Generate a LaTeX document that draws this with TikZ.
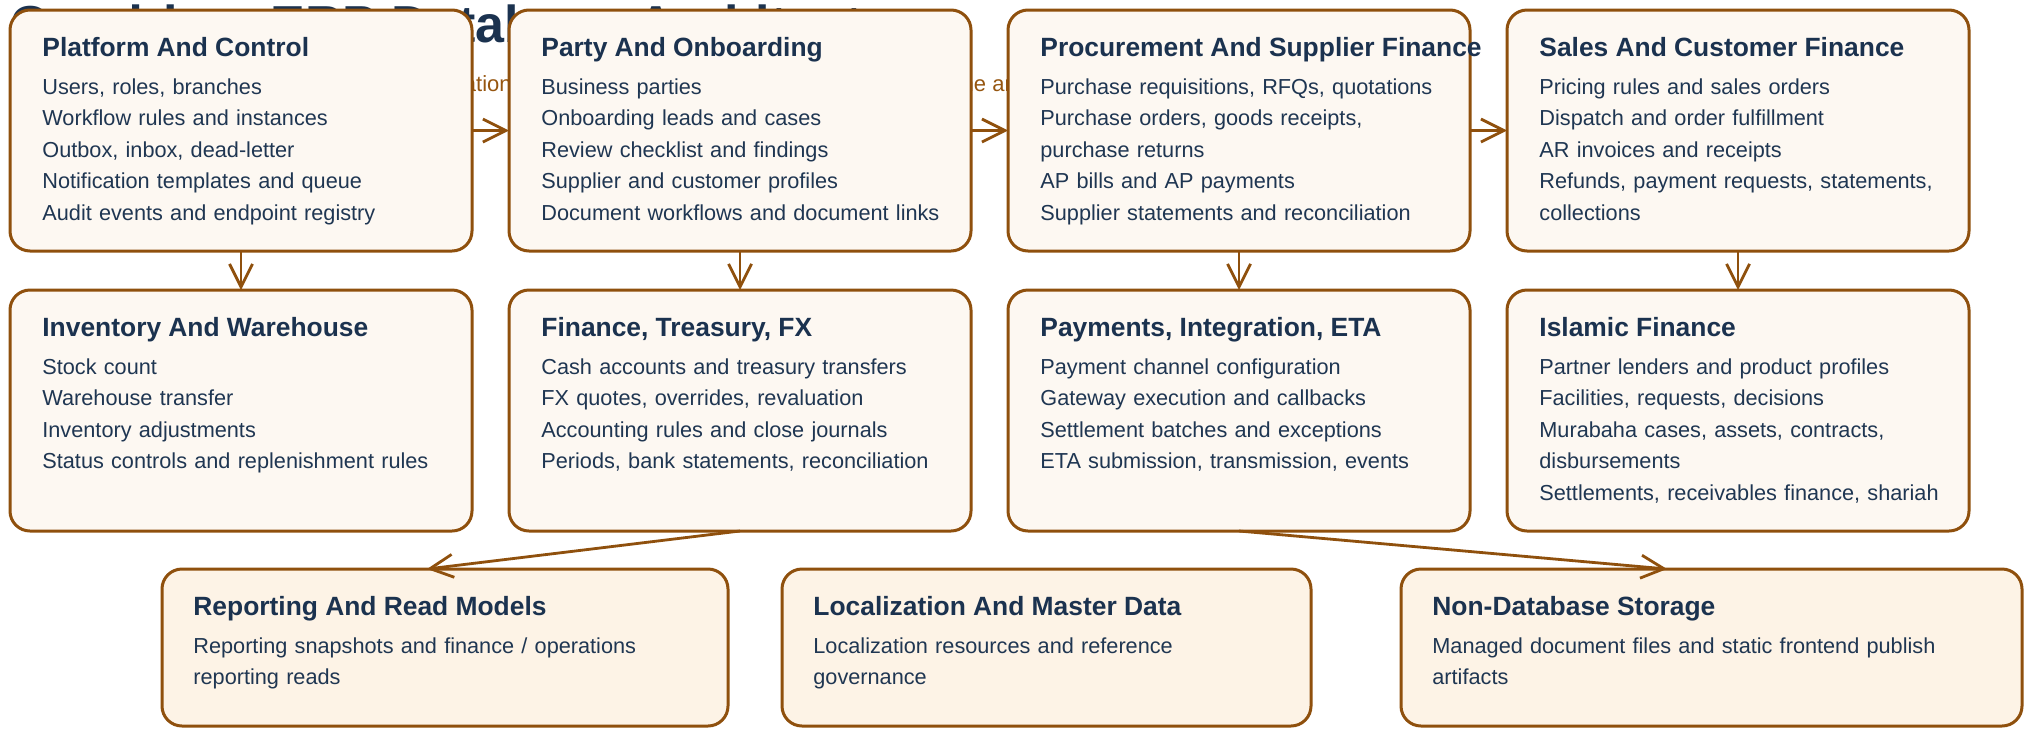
\documentclass[tikz,border=0pt]{standalone}
\usepackage{fontspec}
\setmainfont{Liberation Sans}
\usetikzlibrary{positioning,arrows.meta}

\definecolor{edgebrown}{RGB}{143,80,13}
\definecolor{headnavy}{RGB}{27,50,79}
\definecolor{bodynavy}{RGB}{31,54,82}
\definecolor{boxcream}{RGB}{253,248,242}
\definecolor{basecream}{RGB}{253,243,230}
\definecolor{subbrown}{RGB}{150,86,16}

\newcommand{\modhead}[1]{{\fontsize{13.2}{15.8}\selectfont\bfseries\color{headnavy}#1}\\[3.2pt]}

\begin{document}
\begin{tikzpicture}[x=0.5pt, y=-0.5pt,
    modbox/.style={draw=edgebrown, line width=1.5pt, rounded corners=10pt, fill=boxcream,
        minimum width=231pt, minimum height=120.5pt, inner sep=0pt, outer sep=0pt},
    basebox/.style={modbox, fill=basecream, minimum height=78.5pt},
    modtext/.style={anchor=base west, inner sep=0pt, text width=330pt, align=left,
        text=bodynavy, font=\fontsize{10.85}{15.8}\selectfont},
    flow/.style={draw=edgebrown, line width=1.4pt, -{Straight Barb[length=11.5pt,width=11.5pt]}}]
    \useasboundingbox[fill=white] (0,0) rectangle (2029,729);

    % title and subtitle sit behind the boxes
    \node[anchor=base west, inner sep=0pt, text=headnavy, font=\fontsize{26}{30}\selectfont\bfseries] (title) at (10,42) {Quadrium ERP Database Architecture};
    \node[anchor=base west, inner sep=0pt, text=subbrown, font=\fontsize{11}{14}\selectfont] (subtitle) at (10,91) {Logical domain grouping of schema with integration paths between modules and storage outside the architecture};

    % top row
    \node[modbox] (plat) at (241,130.5) {};
    \node[modbox, right=18.5pt of plat] (party) {};
    \node[modbox, right=18.5pt of party] (proc) {};
    \node[modbox, right=18.5pt of proc] (sales) {};

    % second row
    \node[modbox, below=19.5pt of plat] (inv) {};
    \node[modbox, below=19.5pt of party] (fin) {};
    \node[modbox, below=19.5pt of proc] (pay) {};
    \node[modbox, below=19.5pt of sales] (isl) {};

    % bottom row
    \node[basebox, minimum width=283pt] (rep) at (445,647.5) {};
    \node[basebox, minimum width=264.5pt] (loc) at (1046.5,647.5) {};
    \node[basebox, minimum width=310.5pt] (store) at (1711.5,647.5) {};

    \node[modtext] (plat-t) at ([xshift=16pt,yshift=-23pt]plat.north west) {\modhead{Platform And Control}Users, roles, branches\\Workflow rules and instances\\Outbox, inbox, dead-letter\\Notification templates and queue\\Audit events and endpoint registry};
    \node[modtext] (party-t) at ([xshift=16pt,yshift=-23pt]party.north west) {\modhead{Party And Onboarding}Business parties\\Onboarding leads and cases\\Review checklist and findings\\Supplier and customer profiles\\Document workflows and document links};
    \node[modtext] (proc-t) at ([xshift=16pt,yshift=-23pt]proc.north west) {\modhead{Procurement And Supplier Finance}Purchase requisitions, RFQs, quotations\\Purchase orders, goods receipts,\\purchase returns\\AP bills and AP payments\\Supplier statements and reconciliation};
    \node[modtext] (sales-t) at ([xshift=16pt,yshift=-23pt]sales.north west) {\modhead{Sales And Customer Finance}Pricing rules and sales orders\\Dispatch and order fulfillment\\AR invoices and receipts\\Refunds, payment requests, statements,\\collections};
    \node[modtext] (inv-t) at ([xshift=16pt,yshift=-23pt]inv.north west) {\modhead{Inventory And Warehouse}Stock count\\Warehouse transfer\\Inventory adjustments\\Status controls and replenishment rules};
    \node[modtext] (fin-t) at ([xshift=16pt,yshift=-23pt]fin.north west) {\modhead{Finance, Treasury, FX}Cash accounts and treasury transfers\\FX quotes, overrides, revaluation\\Accounting rules and close journals\\Periods, bank statements, reconciliation};
    \node[modtext] (pay-t) at ([xshift=16pt,yshift=-23pt]pay.north west) {\modhead{Payments, Integration, ETA}Payment channel configuration\\Gateway execution and callbacks\\Settlement batches and exceptions\\ETA submission, transmission, events};
    \node[modtext] (isl-t) at ([xshift=16pt,yshift=-23pt]isl.north west) {\modhead{Islamic Finance}Partner lenders and product profiles\\Facilities, requests, decisions\\Murabaha cases, assets, contracts,\\disbursements\\Settlements, receivables finance, shariah};
    \node[modtext] (rep-t) at ([xshift=15.5pt,yshift=-23pt]rep.north west) {\modhead{Reporting And Read Models}Reporting snapshots and finance / operations\\reporting reads};
    \node[modtext] (loc-t) at ([xshift=15.5pt,yshift=-23pt]loc.north west) {\modhead{Localization And Master Data}Localization resources and reference\\governance};
    \node[modtext] (store-t) at ([xshift=15.5pt,yshift=-23pt]store.north west) {\modhead{Non-Database Storage}Managed document files and static frontend publish\\artifacts};

    % connectors
    \coordinate (rep-in) at ([xshift=-9pt]rep.north);
    \coordinate (store-in) at ([xshift=-22.25pt]store.north);
    \draw[flow] (plat) -- (party);
    \draw[flow] (party) -- (proc);
    \draw[flow] (proc) -- (sales);
    \draw[flow] (plat) -- (inv);
    \draw[flow] (party) -- (fin);
    \draw[flow] (proc) -- (pay);
    \draw[flow] (sales) -- (isl);
    \draw[flow] (fin.south) -- (rep-in);
    \draw[flow] (pay.south) -- (store-in);
\end{tikzpicture}
\end{document}
